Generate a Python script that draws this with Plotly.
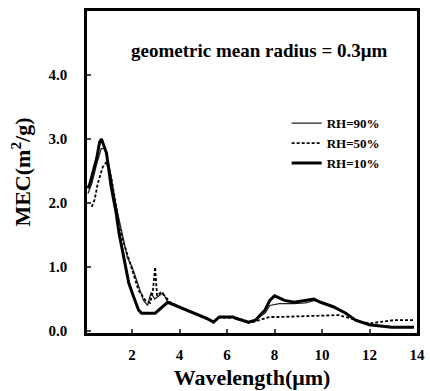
import plotly.graph_objects as go

# RH = 10% (thick solid)
x_rh10 = [0.14, 0.22, 0.51, 0.63, 0.71, 0.92, 1.12, 1.33, 1.45, 1.66, 1.86, 2.07, 2.27, 2.4,
          2.97, 3.5, 4.32, 5.14, 5.43, 5.67, 6.25, 6.37, 6.9, 7.19, 7.6, 7.8, 8.0, 8.42,
          8.83, 9.24, 9.65, 9.94, 10.47, 11.0, 11.29, 11.41, 11.99, 12.93, 13.87]
y_rh10 = [2.23, 2.3, 2.7, 2.95, 3.0, 2.78, 2.25, 1.84, 1.53, 1.11, 0.75, 0.53, 0.33, 0.28,
          0.28, 0.45, 0.33, 0.2, 0.14, 0.22, 0.22, 0.2, 0.14, 0.17, 0.33, 0.48, 0.55, 0.48,
          0.45, 0.48, 0.5, 0.45, 0.38, 0.28, 0.2, 0.17, 0.1, 0.06, 0.06]

# RH = 50% (dashed)
x_rh50 = [0.3, 0.42, 0.55, 0.63, 0.76, 0.92, 1.12, 1.33, 1.45, 1.57, 1.98, 2.27, 2.56, 2.76,
          2.88, 2.97, 3.05, 3.2, 3.38, 3.6, 4.32, 5.14, 5.43, 5.67, 6.25, 6.9, 7.19, 7.6,
          7.8, 8.2, 9.0, 9.8, 10.7, 11.2, 11.6, 12.0, 12.5, 13.0, 13.87]
y_rh50 = [1.94, 2.05, 2.3, 2.4, 2.56, 2.64, 2.4, 1.95, 1.63, 1.47, 1.0, 0.64, 0.48, 0.44,
          0.64, 1.0, 0.55, 0.6, 0.55, 0.45, 0.32, 0.19, 0.14, 0.21, 0.21, 0.13, 0.15, 0.2,
          0.22, 0.22, 0.23, 0.25, 0.25, 0.2, 0.15, 0.12, 0.14, 0.17, 0.17]

# RH = 90% (thin solid)
x_rh90 = [0.14, 0.3, 0.5, 0.7, 0.85, 1.05, 1.3, 1.55, 1.8, 2.0, 2.15, 2.35, 2.48, 2.65,
          2.8, 2.95, 3.15, 3.3, 3.5, 4.32, 5.14, 5.43, 5.67, 6.25, 6.9, 7.19, 7.6, 7.8,
          8.2, 8.8, 9.3, 9.7, 10.0, 10.5, 11.0, 11.4, 12.0, 12.9, 13.87]
y_rh90 = [2.15, 2.3, 2.6, 2.85, 2.85, 2.55, 2.0, 1.55, 1.15, 1.0, 0.83, 0.64, 0.48, 0.4,
          0.6, 0.5, 0.55, 0.6, 0.45, 0.33, 0.2, 0.14, 0.22, 0.22, 0.14, 0.17, 0.28, 0.4,
          0.43, 0.43, 0.44, 0.48, 0.45, 0.38, 0.28, 0.17, 0.1, 0.07, 0.07]

x_ticks = [2, 4, 6, 8, 10, 12, 14]
y_ticks = [0.0, 1.0, 2.0, 3.0, 4.0]
y_tick_labels = ["0.0", "1.0", "2.0", "3.0", "4.0"]

FONT = "Liberation Serif"

fig = go.Figure()
fig.add_trace(go.Scatter(x=x_rh90, y=y_rh90, mode="lines", name="RH=90%",
                         line=dict(color="#222", width=1.3)))
fig.add_trace(go.Scatter(x=x_rh50, y=y_rh50, mode="lines", name="RH=50%",
                         line=dict(color="black", width=1.8, dash="3px,2px")))
fig.add_trace(go.Scatter(x=x_rh10, y=y_rh10, mode="lines", name="RH=10%",
                         line=dict(color="black", width=3)))

fig.update_layout(
    width=430, height=391,
    margin=dict(l=87, r=5, t=11, b=58),
    paper_bgcolor="white", plot_bgcolor="white",
    font=dict(family=FONT, color="black", size=15, weight="bold"),
    showlegend=True,
    legend=dict(x=0.605, y=0.698, xanchor="left", yanchor="top",
                bgcolor="rgba(0,0,0,0)", font=dict(size=13, family=FONT, weight="bold"),
                itemwidth=30, tracegroupgap=0),
    annotations=[dict(text="geometric mean radius = 0.3μm", x=0.524, y=0.915,
                      xref="paper", yref="paper", showarrow=False,
                      font=dict(size=19, family=FONT, weight="bold"))],
)
fig.update_xaxes(range=[0.1, 14.0], tickvals=x_ticks, ticks="inside", ticklen=4,
                 tickwidth=2, showline=True, linewidth=2.5, linecolor="black",
                 mirror=True, showgrid=False, zeroline=False, ticklabelstandoff=6,
                 title=dict(text="Wavelength(μm)", font=dict(size=22, family=FONT, weight="bold"),
                            standoff=8),
                 tickfont=dict(size=15, family=FONT, weight="bold"))
fig.update_yaxes(range=[-0.03, 5.0], tickvals=y_ticks, ticktext=y_tick_labels,
                 ticks="inside", ticklen=4, tickwidth=2, showline=True, linewidth=2.5,
                 linecolor="black", mirror=True, showgrid=False, zeroline=False,
                 ticklabelstandoff=14,
                 title=dict(text="MEC(m<sup>2</sup>/g)", font=dict(size=22, family=FONT, weight="bold"),
                            standoff=12),
                 tickfont=dict(size=15, family=FONT, weight="bold"))

fig.write_html("out.html")
